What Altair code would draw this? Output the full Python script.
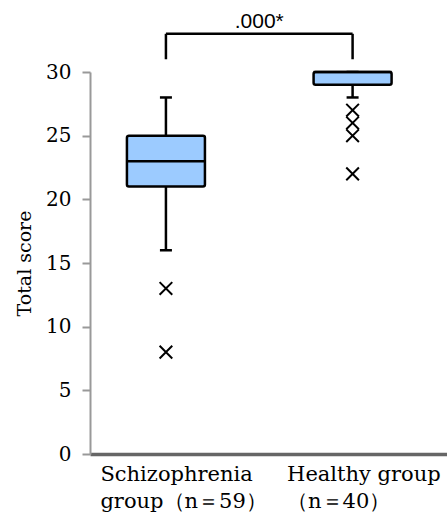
import json
import altair as alt
import pandas as pd

# ---- data ----
group_idx = [0, 1]
group_names = ["Schizophrenia", "Healthy group"]
label_lines = [["Schizophrenia", "group（n＝59）"], ["Healthy group", "（n＝40）"]]
q1 = [21, 29]
median = [23, 30]
q3 = [25, 30]
whisk_lo = [16, 28]
whisk_hi = [28, 30]
out_group = [0, 0, 1, 1, 1, 1]
out_value = [13, 8, 27, 26, 25, 22]
p_text = ".000*"
bracket_top = 33
bracket_bottom = 31
y_ticks = [0, 5, 10, 15, 20, 25, 30]

stats = pd.DataFrame({"g": group_idx, "name": group_names, "q1": q1, "med": median,
                      "q3": q3, "lo": whisk_lo, "hi": whisk_hi})
outs = pd.DataFrame({"g": out_group, "v": out_value})
legs = pd.DataFrame({"g": group_idx, "b": [bracket_bottom] * 2, "t": [bracket_top] * 2})
bar_top = pd.DataFrame({"g0": [group_idx[0]], "g1": [group_idx[1]], "t": [bracket_top],
                        "mid": [(group_idx[0] + group_idx[1]) / 2], "txt": [p_text]})

SERIF = "DejaVu Serif"
lbl_expr = "datum.value == 0 ? %s : %s" % (json.dumps(label_lines[0], ensure_ascii=False),
                                           json.dumps(label_lines[1], ensure_ascii=False))

xscale = alt.Scale(domain=[-0.38, 1.479], nice=False, zero=False)
yscale = alt.Scale(domain=[0, 30], nice=False)

xaxis = alt.Axis(values=group_idx, title=None, ticks=False, grid=False, labelExpr=lbl_expr,
                 labelFont=SERIF, labelFontSize=21, labelColor="black", labelLineHeight=27,
                 labelPadding=9, labelAlign="left", labelOffset=-66,
                 domainColor="#666666", domainWidth=3.5,
                 labelFlush=False, labelOverlap=False)
yaxis = alt.Axis(values=y_ticks, title="Total score", grid=False, labelFont=SERIF,
                 labelFontSize=20, labelColor="black", labelPadding=11, tickSize=8,
                 tickColor="#999999", tickWidth=2, domainColor="#999999", domainWidth=2,
                 titleFont=SERIF, titleFontSize=19, titleFontWeight="normal",
                 titleColor="black", titlePadding=11)

base = alt.Chart(stats)

whisk_lo_rule = base.mark_rule(color="black", strokeWidth=2.5).encode(
    x=alt.X("g:Q", scale=xscale, axis=xaxis),
    y=alt.Y("lo:Q", scale=yscale, axis=yaxis), y2="q1:Q")
whisk_hi_rule = base.mark_rule(color="black", strokeWidth=2.5).encode(
    x="g:Q", y="q3:Q", y2="hi:Q")
cap_lo = base.mark_tick(color="black", size=12, thickness=2.5, orient="horizontal",
                        opacity=1).encode(x="g:Q", y="lo:Q")
cap_hi = base.mark_tick(color="black", size=12, thickness=2.5, orient="horizontal",
                        opacity=1).encode(x="g:Q", y="hi:Q")
box = base.mark_bar(size=78, fill="#9ccbff", stroke="black", strokeWidth=2.5,
                    cornerRadius=2).encode(x="g:Q", y="q1:Q", y2="q3:Q")
med = base.mark_tick(color="black", size=78, thickness=2.5, orient="horizontal",
                     opacity=1).encode(x="g:Q", y="med:Q")

pts = alt.Chart(outs).mark_point(shape="M-1,-1L1,1M-1,1L1,-1", size=160, color="black",
                                 strokeWidth=2, filled=False, opacity=1).encode(
    x="g:Q", y="v:Q")

leg_rules = alt.Chart(legs).mark_rule(color="black", strokeWidth=2.5).encode(
    x="g:Q", y="b:Q", y2="t:Q")
top_rule = alt.Chart(bar_top).mark_rule(color="black", strokeWidth=2.5).encode(
    x="g0:Q", x2="g1:Q", y="t:Q")
ptxt = alt.Chart(bar_top).mark_text(font="Liberation Sans", fontSize=21, color="black",
                                    baseline="alphabetic", dy=-6).encode(
    x="mid:Q", y="t:Q", text="txt:N")

chart = alt.layer(whisk_lo_rule, whisk_hi_rule, cap_lo, cap_hi, box, med, pts,
                  leg_rules, top_rule, ptxt).properties(
    width=357, height=382,
    autosize=alt.AutoSizeParams(type="none"),
    padding={"left": 90, "top": 72, "right": 0, "bottom": 64},
    background="white",
).configure_view(stroke=None)

chart.save("out.html", embed_options={"renderer": "svg", "actions": False})
